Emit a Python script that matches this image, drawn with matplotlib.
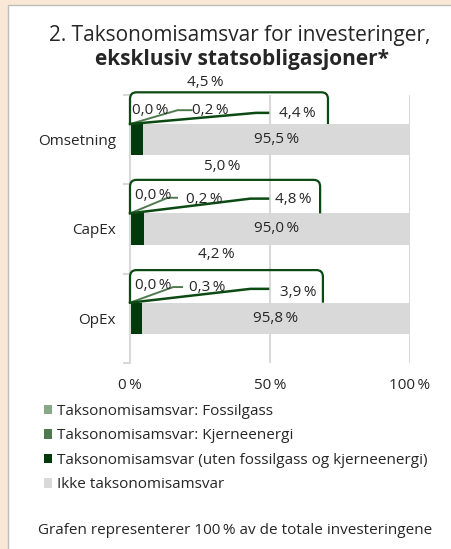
"""Taksonomisamsvar for investeringer - stacked horizontal bars with callouts."""
import matplotlib
matplotlib.use("Agg")
import matplotlib.pyplot as plt
from matplotlib.patches import Rectangle, Patch
from matplotlib.path import Path
from matplotlib.patches import PathPatch

plt.rcParams["font.family"] = ["Open Sans", "DejaVu Sans"]

# data
categories = ["Omsetning", "CapEx", "OpEx"]
fossil = [0.0, 0.0, 0.0]
nuclear = [0.2, 0.2, 0.3]
aligned = [4.4, 4.8, 3.9]
not_aligned = [95.5, 95.0, 95.8]
total_aligned = [4.5, 5.0, 4.2]
series_names = [
    "Taksonomisamsvar: Fossilgass",
    "Taksonomisamsvar: Kjerneenergi",
    "Taksonomisamsvar (uten fossilgass og kjerneenergi)",
    "Ikke taksonomisamsvar",
]
x_ticks = [0, 50, 100]

# styling
colors = ["#88a888", "#4f7a50", "#00390b", "#d9d9d9"]
line_col = "#0b4a12"
grid_col = "#d9d9d9"
text_col = "#262626"
bar_h = 0.35
fs = 11

# callout layout (x in %, y as offset from bar centre in category units)
total_pos = [(27, -0.64), (33, -0.70), (31, -0.71)]
box_top = [-0.53, -0.55, -0.54]
box_right = [70.7, 67.9, 68.9]
fossil_pos = [(7.1, -0.33), (8.2, -0.37), (8.2, -0.37)]
nuclear_pos = [(28.6, -0.33), (26.4, -0.33), (27.5, -0.34)]
aligned_pos = [(59.6, -0.29), (58.2, -0.33), (60.0, -0.29)]
nuclear_stub = [(17.0, 22.0, -0.33), (13.5, 16.8, -0.35), (15.4, 18.6, -0.35)]
aligned_stub = [(45.0, 49.3, -0.30), (43.0, 49.3, -0.34), (43.0, 49.3, -0.33)]


def pct(v):
    return f"{v:.1f}".replace(".", ",") + "\u2009%"


fig = plt.figure(figsize=(4.51, 5.49), dpi=100)
fig.patch.set_facecolor("#fae8d6")
fig.patches.append(Rectangle((8 / 451, -0.05), 1.0, 1.05 - 5 / 549, transform=fig.transFigure,
                             facecolor="white", edgecolor="#bdbdbd", lw=1.0, zorder=-5))

ax = fig.add_axes([130 / 451, 1 - 363 / 549, 280 / 451, 268 / 549])
ax.set_facecolor("none")

ypos = list(range(len(categories)))
left = [0.0] * len(categories)
for vals, col in zip([fossil, nuclear, aligned, not_aligned], colors):
    ax.barh(ypos, vals, left=left, height=bar_h, color=col, zorder=2)
    left = [a + b for a, b in zip(left, vals)]

ax.set_xlim(0, 100)
ax.set_ylim(2.5, -0.5)
ax.set_xticks(x_ticks)
ax.set_xticklabels([f"{t}\u2009%" for t in x_ticks], fontsize=fs, color=text_col)
ax.set_yticks(ypos)
ax.set_yticklabels(categories, fontsize=fs, color=text_col)
ax.set_yticks([-0.5, 0.5, 1.5, 2.5], minor=True)
ax.tick_params(axis="y", which="major", length=0, pad=10)
ax.tick_params(axis="y", which="minor", length=5, width=1.5, color=grid_col)
ax.tick_params(axis="x", length=0, pad=11)
ax.grid(axis="x", color=grid_col, lw=1.5, zorder=0)
for s in ["top", "right", "bottom"]:
    ax.spines[s].set_visible(False)
ax.spines["left"].set_color(grid_col)
ax.spines["left"].set_linewidth(1.5)

rx, ry = 2.3, 0.075
for i in ypos:
    top_bar = i - bar_h / 2
    # bracket round the aligned share
    t = i + box_top[i]
    r = box_right[i]
    verts = [(0, top_bar), (0, t + ry), (0, t), (rx, t), (r - rx, t), (r, t), (r, t + ry), (r, top_bar)]
    codes = [Path.MOVETO, Path.LINETO, Path.CURVE3, Path.CURVE3, Path.LINETO,
             Path.CURVE3, Path.CURVE3, Path.LINETO]
    ax.add_patch(PathPatch(Path(verts, codes), fill=False, edgecolor=line_col, lw=1.6,
                           clip_on=False, zorder=3))

    # leader lines
    x0, x1, yo = nuclear_stub[i]
    ax.plot([0, x0, x1], [top_bar, i + yo, i + yo], color=colors[1], lw=1.4, zorder=3,
            clip_on=False)
    x0, x1, yo = aligned_stub[i]
    ax.plot([0, x0, x1], [top_bar, i + yo, i + yo], color=line_col, lw=1.8, zorder=3,
            clip_on=False)

    # labels
    ax.text(total_pos[i][0], i + total_pos[i][1], pct(total_aligned[i]), ha="center",
            va="center", fontsize=fs, color=text_col, clip_on=False)
    ax.text(fossil_pos[i][0], i + fossil_pos[i][1], pct(fossil[i]), ha="center",
            va="center", fontsize=fs, color=text_col, zorder=4)
    ax.text(nuclear_pos[i][0], i + nuclear_pos[i][1], pct(nuclear[i]), ha="center",
            va="center", fontsize=fs, color=text_col, zorder=4)
    ax.text(aligned_pos[i][0], i + aligned_pos[i][1], pct(aligned[i]), ha="center",
            va="center", fontsize=fs, color=text_col, zorder=4,
            bbox=dict(facecolor="white", edgecolor="none", pad=1))
    mid = fossil[i] + nuclear[i] + aligned[i] + not_aligned[i] / 2
    ax.text(mid, i, pct(not_aligned[i]), ha="center", va="center", fontsize=fs,
            color=text_col, zorder=4)

fig.text(240 / 451, 1 - 35 / 549, "2. Taksonomisamsvar for investeringer,", ha="center",
         va="center", fontsize=15, color=text_col)
fig.text(242 / 451, 1 - 60 / 549, "eksklusiv statsobligasjoner*", ha="center", va="center",
         fontsize=15, fontweight="bold", color=text_col)

handles = [Patch(facecolor=c, edgecolor="none") for c in colors]
fig.legend(handles, series_names, loc="upper left", bbox_to_anchor=(44 / 451, 1 - 404 / 549),
           frameon=False, fontsize=fs, handlelength=0.55, handleheight=0.55,
           handletextpad=0.3, labelspacing=0.62, borderaxespad=0, borderpad=0,
           labelcolor=text_col)

fig.text(235 / 451, 1 - 530 / 549, "Grafen representerer 100\u2009% av de totale investeringene",
         ha="center", va="center", fontsize=fs, color=text_col)

fig.savefig("out.png", dpi=100)
